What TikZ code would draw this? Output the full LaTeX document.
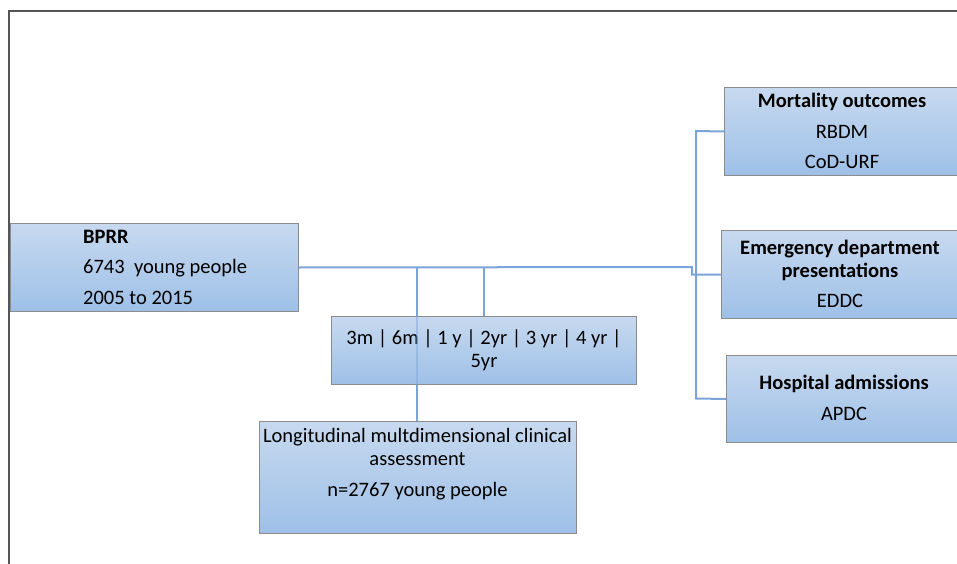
\documentclass[tikz,border=0pt]{standalone}
\usepackage{fontspec}
\setmainfont{Carlito}
\definecolor{boxtop}{HTML}{C7D9EF}
\definecolor{boxbot}{HTML}{9EC0E7}
\definecolor{boxline}{HTML}{8C8C8C}
\definecolor{connc}{HTML}{7BA5D8}
\definecolor{framec}{HTML}{555555}
\begin{document}
\begin{tikzpicture}[x=1pt,y=-1pt,
  box/.style={draw=boxline, line width=1pt, top color=boxtop, bottom color=boxbot, rectangle, inner sep=0pt, anchor=north west},
  txt/.style={font=\fontsize{20.5}{23}\selectfont, inner sep=0pt, align=center},
  conn/.style={draw=connc, line width=2pt}]
\useasboundingbox (0,0) rectangle (957,564);
\draw[framec, line width=1.2pt] (9,564) -- (9,11) -- (957,11);
% boxes
\node[box, minimum width=288, minimum height=88] (bprr) at (10,223) {};
\node[box, minimum width=305, minimum height=68] (tp) at (331,316) {};
\node[box, minimum width=317, minimum height=112] (long) at (259,421) {};
\node[box, minimum width=240, minimum height=88] (mort) at (724,87) {};
\node[box, minimum width=243, minimum height=88] (ed) at (721,230) {};
\node[box, minimum width=238, minimum height=87] (hosp) at (726,355) {};
% texts
\node[txt, align=left, anchor=west] (bprrt) at (83,267) {\textbf{BPRR}\\[7.5pt]6743~ young people\\[7.5pt]2005 to 2015};
\node[txt] (tpt) at (tp.center) {3m | 6m | 1 y | 2yr | 3 yr | 4 yr |\\5yr};
\node[txt, anchor=north] (longt) at (417.5,428.5) {Longitudinal multdimensional clinical\\assessment\\[7.5pt]n=2767 young people};
\node[txt] (mortt) at (842,131) {\textbf{Mortality outcomes}\\[7.5pt]RBDM\\[7.5pt]CoD-URF};
\node[txt] (edt) at (840,274) {\textbf{Emergency department}\\\textbf{presentations}\\[7.5pt]EDDC};
\node[txt] (hospt) at (844,398) {\textbf{Hospital admissions}\\[7.5pt]APDC};
% connectors
\coordinate (j) at (692,267);
\coordinate (t1) at (417,267);
\coordinate (t2) at (484,267);
\coordinate (b1) at (696,131);
\coordinate (b2) at (696,398.5);
\draw[conn] (bprr.east) -- (j) |- (ed.west);
\draw[conn] (mort.west) -- (b1) -- (b2) -- (hosp.west);
\draw[conn] (t1) -- (t1 |- tp.north);
\draw[conn] (t2) -- (t2 |- tp.north);
\draw[conn, opacity=0.45] (t1 |- tp.north) -- (t1 |- tp.south);
\draw[conn] (t1 |- tp.south) -- (t1 |- long.north);
\end{tikzpicture}
\end{document}
